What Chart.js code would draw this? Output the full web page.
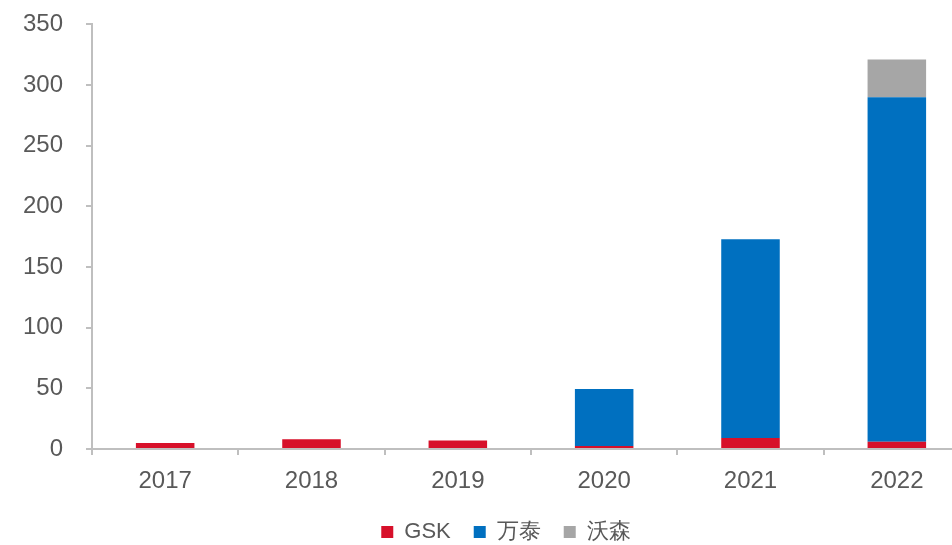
<!DOCTYPE html>
<html>
<head>
<meta charset="utf-8">
<script src="https://cdn.jsdelivr.net/npm/chart.js@4"></script>
<style>
  html, body { margin: 0; padding: 0; overflow: hidden; background: #fff; }
  #wrap { position: absolute; left: 0; top: -13px; width: 1012px; height: 566px; }
</style>
</head>
<body>
<div id="wrap"><canvas id="chart"></canvas></div>
<script>
// values
const years = ['2017', '2018', '2019', '2020', '2021', '2022'];
const gsk = [5, 8, 7, 2.5, 9, 6];
const wantai = [0, 0, 0, 47, 164, 284];
const wosen = [0, 0, 0, 0, 0, 31];

const axisColor = '#bfbfbf';
const textColor = '#595959';
const family = '"Liberation Sans", Arial, sans-serif';

const ctx = document.getElementById('chart').getContext('2d');
new Chart(ctx, {
    type: 'bar',
    data: {
        labels: years,
        datasets: [
            { label: 'GSK', data: gsk, backgroundColor: '#d7102a' },
            { label: '万泰', data: wantai, backgroundColor: '#0070c0' },
            { label: '沃森', data: wosen, backgroundColor: '#a6a6a6' }
        ]
    },
    options: {
        responsive: true,
        maintainAspectRatio: false,
        animation: false,
        categoryPercentage: 1,
        barPercentage: 0.4,
        layout: { padding: 0 },
        plugins: {
            tooltip: { enabled: false },
            legend: {
                position: 'bottom',
                labels: {
                    boxWidth: 12,
                    boxHeight: 12,
                    padding: 23,
                    color: textColor,
                    font: { family: family, size: 22 }
                }
            }
        },
        scales: {
            x: {
                stacked: true,
                border: { display: true, color: axisColor, width: 2 },
                grid: { display: true, drawOnChartArea: false, drawTicks: true, tickLength: 6, color: axisColor, lineWidth: 2, offset: true },
                ticks: { color: textColor, font: { family: family, size: 24 }, padding: 12 },
                afterFit: (axis) => { axis.height = 49; }
            },
            y: {
                stacked: true,
                min: 0,
                max: 350,
                border: { display: true, color: axisColor, width: 2 },
                grid: { display: true, drawOnChartArea: false, drawTicks: true, tickLength: 6, color: axisColor, lineWidth: 2 },
                ticks: { stepSize: 50, color: textColor, font: { family: family, size: 24 }, padding: 23 },
                afterFit: (axis) => { axis.width = 92; }
            },
            // empty spacer on the right so the plot ends where the reference is cut off
            yRight: {
                position: 'right',
                min: 0,
                max: 350,
                border: { display: false },
                grid: { display: false },
                ticks: { display: false },
                afterFit: (axis) => { axis.width = 42; }
            }
        }
    }
});
</script>
</body>
</html>
